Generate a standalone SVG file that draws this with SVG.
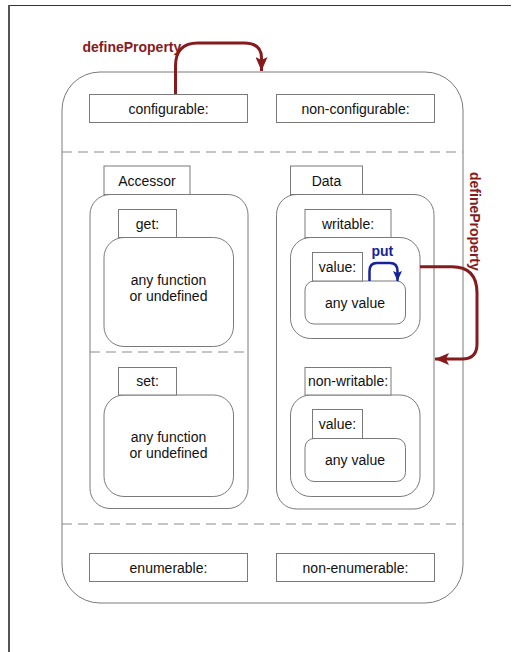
<svg xmlns="http://www.w3.org/2000/svg" width="516" height="652" viewBox="0 0 516 652">
<defs>
<style>
.box{fill:#fff;stroke:#7a7a7a;stroke-width:1}
.dash{stroke:#8a8a8a;stroke-width:1;stroke-dasharray:10,6;fill:none}
.t{font-family:"Liberation Sans",Arial,sans-serif;font-size:14px;fill:#111;text-anchor:middle}
.lbl{font-family:"Liberation Sans",Arial,sans-serif;font-size:14px;font-weight:bold}
.red{fill:none;stroke:#861b1d;stroke-width:3}
.blue{fill:none;stroke:#16239a;stroke-width:2.5}
</style>
<marker id="ahRed" markerUnits="userSpaceOnUse" markerWidth="14" markerHeight="12" viewBox="0 0 14 12" refX="14" refY="6" orient="auto">
<path d="M0,0 L14,6 L0,12 L3,6 Z" fill="#861b1d"/>
</marker>
<marker id="ahBlue" markerUnits="userSpaceOnUse" markerWidth="10" markerHeight="9" viewBox="0 0 10 9" refX="10" refY="4.5" orient="auto">
<path d="M0,0 L10,4.5 L0,9 L2,4.5 Z" fill="#16239a"/>
</marker>
</defs>
<rect width="516" height="652" fill="#fff"/>
<g id="frame">
<line x1="8" y1="5.5" x2="511" y2="5.5" stroke="#333" stroke-width="1"/>
<line x1="9" y1="5" x2="9" y2="652" stroke="#555" stroke-width="2"/>
</g>
<g id="outer">
<rect class="box" x="62" y="72" width="401" height="531" rx="38"/>
<line class="dash" x1="62" y1="152" x2="463" y2="152"/>
<line class="dash" x1="62" y1="524" x2="463" y2="524"/>
</g>
<g id="configurable"><rect class="box" x="89.5" y="94.5" width="158" height="28"/><text class="t" x="168.5" y="113.5">configurable:</text></g>
<g id="non-configurable"><rect class="box" x="276.5" y="94.5" width="158" height="28"/><text class="t" x="355.5" y="113.5">non-configurable:</text></g>
<g id="enumerable"><rect class="box" x="89.5" y="553.5" width="158" height="28"/><text class="t" x="168.5" y="572.5">enumerable:</text></g>
<g id="non-enumerable"><rect class="box" x="276.5" y="553.5" width="158" height="28"/><text class="t" x="355.5" y="572.5">non-enumerable:</text></g>
<g id="accessor">
<rect class="box" x="90" y="194.5" width="158" height="314" rx="20"/>
<rect class="box" x="104" y="166" width="86" height="28.5"/>
<text class="t" x="147" y="185.5">Accessor</text>
<line class="dash" x1="90" y1="352" x2="248" y2="352"/>
</g>
<g id="get">
<rect class="box" x="104" y="237.5" width="129.5" height="109" rx="20"/>
<rect class="box" x="118.5" y="209.5" width="58" height="28"/>
<text class="t" x="147.5" y="228.5">get:</text>
<text class="t" x="168.5" y="285">any function</text>
<text class="t" x="168.5" y="301">or undefined</text>
</g>
<g id="set">
<rect class="box" x="104" y="395" width="129.5" height="101.5" rx="20"/>
<rect class="box" x="118.5" y="367.5" width="58" height="27.5"/>
<text class="t" x="147.5" y="386">set:</text>
<text class="t" x="168.5" y="442">any function</text>
<text class="t" x="168.5" y="458">or undefined</text>
</g>
<g id="data">
<rect class="box" x="276.5" y="194.5" width="157.5" height="314.5" rx="20"/>
<rect class="box" x="290.5" y="166" width="72" height="28.5"/>
<text class="t" x="326.5" y="185.5">Data</text>
</g>
<g id="writable">
<rect class="box" x="290.5" y="237.5" width="129.5" height="101" rx="20"/>
<rect class="box" x="305" y="209.5" width="86" height="28"/>
<text class="t" x="348" y="228.5">writable:</text>
</g>
<g id="writable-value">
<rect class="box" x="305" y="281" width="100.5" height="43" rx="9"/>
<rect class="box" x="312.5" y="252.5" width="50" height="28.5"/>
<text class="t" x="337.5" y="271.5">value:</text>
<text class="t" x="355" y="307.5">any value</text>
</g>
<g id="non-writable">
<rect class="box" x="290.5" y="395" width="129.5" height="101.5" rx="20"/>
<rect class="box" x="305" y="367.5" width="86" height="27.5"/>
<text class="t" x="348" y="386">non-writable:</text>
</g>
<g id="non-writable-value">
<rect class="box" x="305" y="438.5" width="100.5" height="43" rx="9"/>
<rect class="box" x="312.5" y="409.5" width="50" height="29"/>
<text class="t" x="337.5" y="429">value:</text>
<text class="t" x="355" y="465">any value</text>
</g>
<g id="connectors">
<path class="red" d="M175.5,94 V66 Q175.5,43 198,43 H244 Q261.5,43 261.5,58 V71" marker-end="url(#ahRed)"/>
<text class="lbl" x="82.5" y="52" fill="#861b1d">defineProperty</text>
<path class="blue" d="M369.5,281 V271 Q369.5,263 377,263 H390 Q397.5,263 397.5,271 V281" marker-end="url(#ahBlue)"/>
<text class="lbl" x="371.5" y="256" fill="#16239a">put</text>
<path class="red" d="M420,266.7 H452 Q477,266.7 477,293 V344 Q477,359 462,359 H435" marker-end="url(#ahRed)"/>
<text class="lbl" x="0" y="0" fill="#861b1d" font-size="13" transform="translate(469.5,172) rotate(90)">defineProperty</text>
</g>
</svg>
